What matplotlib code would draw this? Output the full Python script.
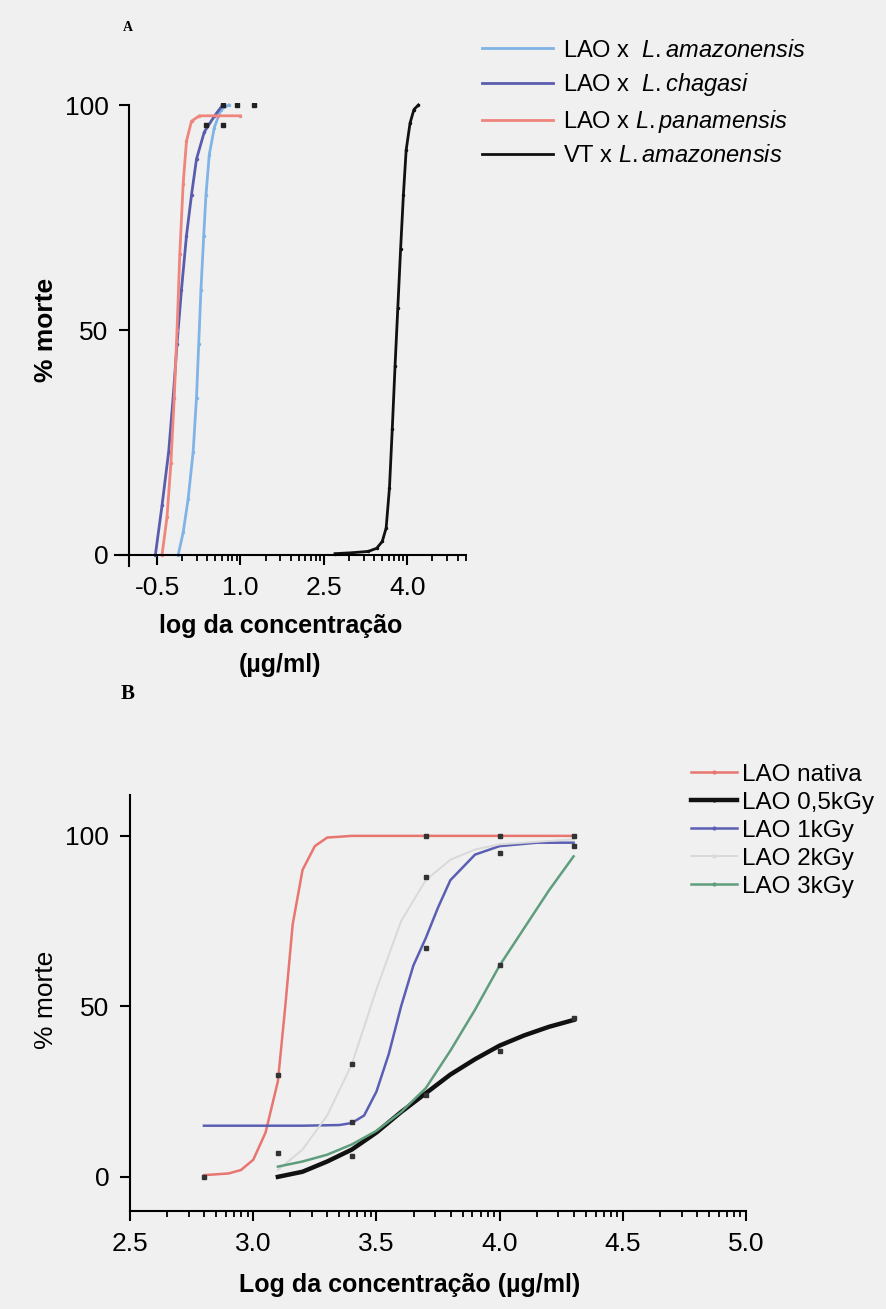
import numpy as np
import matplotlib.pyplot as plt
from matplotlib.lines import Line2D

plt.rcParams['font.family'] = ['Liberation Sans', 'DejaVu Sans']
plt.rcParams['mathtext.fontset'] = 'custom'
plt.rcParams['mathtext.it'] = 'Liberation Sans:italic'
plt.rcParams['mathtext.rm'] = 'Liberation Sans'

# ---- painel A: curvas (log conc, % morte)
amaz_x = [-0.12, -0.03, 0.06, 0.15, 0.21, 0.25, 0.29, 0.34, 0.38, 0.44, 0.53, 0.65, 0.79]
amaz_y = [0, 5, 12.5, 23, 35, 47, 59, 71, 80, 89, 95, 99, 100]
chag_x = [-0.53, -0.41, -0.29, -0.21, -0.14, -0.06, 0.03, 0.12, 0.21, 0.35, 0.53, 0.68]
chag_y = [0, 11, 23, 35, 47, 59, 71, 80, 88, 94, 97.5, 100]
pan_x = [-0.41, -0.32, -0.25, -0.19, -0.14, -0.09, -0.03, 0.03, 0.12, 0.26, 0.6, 1.0]
pan_y = [0, 8.5, 20.5, 35, 50, 67, 82.5, 92, 96.4, 97.6, 97.6, 97.6]
vt_x = [2.7, 3.0, 3.3, 3.45, 3.55, 3.62, 3.68, 3.73, 3.78, 3.83, 3.88, 3.93, 3.98, 4.05, 4.12, 4.2]
vt_y = [0.3, 0.5, 0.8, 1.5, 3, 6, 15, 28, 42, 55, 68, 80, 90, 96, 99, 100]
ptsA_x = [0.38, 0.68, 0.68, 0.94, 1.24]
ptsA_y = [95.5, 95.5, 100, 100, 100]

labelsA = [r'LAO x  $\mathit{L.amazonensis}$', r'LAO x  $\mathit{L.chagasi}$',
           r'LAO x $\mathit{L.panamensis}$', r'VT x $\mathit{L.amazonensis}$']
coresA = ['#80b4e6', '#5a5cae', '#ef857c', '#111111']

# ---- painel B
nat_x = [2.8, 2.9, 2.95, 3.0, 3.05, 3.1, 3.13, 3.16, 3.2, 3.25, 3.3, 3.4, 3.7, 4.0, 4.3]
nat_y = [0.5, 1, 2, 5, 13, 28, 50, 74, 90, 97, 99.5, 100, 100, 100, 100]
k05_x = [3.1, 3.2, 3.3, 3.4, 3.5, 3.6, 3.7, 3.8, 3.9, 4.0, 4.1, 4.2, 4.3]
k05_y = [0, 1.5, 4.5, 8, 13, 19, 24.5, 30, 34.5, 38.5, 41.5, 44, 46]
k1_x = [2.8, 3.0, 3.2, 3.35, 3.4, 3.45, 3.5, 3.55, 3.6, 3.65, 3.7, 3.75, 3.8, 3.9, 4.0, 4.15, 4.3]
k1_y = [15, 15, 15, 15.2, 15.8, 18, 25, 36, 50, 62, 70, 79, 87, 94.5, 97, 98, 98]
k2_x = [3.1, 3.2, 3.3, 3.4, 3.5, 3.6, 3.7, 3.8, 3.9, 4.0, 4.3]
k2_y = [2, 8, 18, 33, 55, 75, 87, 93, 96, 97.5, 99]
k3_x = [3.1, 3.2, 3.3, 3.4, 3.5, 3.6, 3.7, 3.8, 3.9, 4.0, 4.1, 4.2, 4.3]
k3_y = [3, 4.5, 6.5, 9.5, 13.5, 19, 26, 37, 49, 62, 73, 84, 94]
ptsB_x = [2.8, 3.1, 3.1, 3.4, 3.4, 3.4, 3.7, 3.7, 3.7, 3.7, 4.0, 4.0, 4.0, 4.0, 4.3, 4.3, 4.3]
ptsB_y = [0, 30, 7, 33, 16, 6, 100, 88, 67, 24, 100, 95, 62, 37, 100, 97, 46.5]

labelsB = ['LAO nativa', 'LAO 0,5kGy', 'LAO 1kGy', 'LAO 2kGy', 'LAO 3kGy']
coresB = ['#e8756f', '#111111', '#5b5fb4', '#d9d9d9', '#5e9e7c']
larguraB = [1.8, 3.2, 1.8, 1.4, 1.8]

fundo = '#f0f0f0'
fig = plt.figure(figsize=(8.87, 13.09), dpi=100, facecolor=fundo)

# ================= painel A
axA = fig.add_axes([0.130, 0.5657, 0.395, 0.3558])
axA.set_facecolor(fundo)
for xs, ys, c in zip([amaz_x, chag_x, pan_x, vt_x], [amaz_y, chag_y, pan_y, vt_y], coresA):
    axA.plot(xs, ys, '-', color=c, lw=2.0, marker='.', ms=3)
axA.plot(ptsA_x, ptsA_y, 's', color='#222222', ms=2.5)

axA.set_xlim(-1.25, 5.05)
axA.set_ylim(-3, 100.5)
axA.spines['top'].set_visible(False)
axA.spines['right'].set_visible(False)
axA.spines['bottom'].set_position(('data', 0))
axA.spines['left'].set_position(('data', -1.0))
axA.spines['left'].set_bounds(-2.5, 100)
majA = [-0.5, 1.0, 2.5, 4.0]
minA = [m + 1.5 * np.log10(k) for m in majA for k in range(2, 10) if m + 1.5 * np.log10(k) < 5.05]
axA.set_xticks(majA)
axA.set_xticklabels(['-0.5', '1.0', '2.5', '4.0'])
axA.set_xticks(minA, minor=True)
axA.set_yticks([0, 50, 100])
axA.tick_params(axis='both', which='major', labelsize=19, direction='out', length=7, width=1.5, pad=8)
axA.tick_params(axis='x', which='minor', direction='out', length=4, width=1.3)
for s in ['left', 'bottom']:
    axA.spines[s].set_linewidth(1.5)

fig.text(0.052, 0.748, '% morte', rotation=90, fontsize=19, fontweight='bold', ha='center', va='center')
fig.text(0.316, 0.522, 'log da concentração', fontsize=18, fontweight='bold', ha='center', va='center')
fig.text(0.316, 0.492, '(µg/ml)', fontsize=18, fontweight='bold', ha='center', va='center')
fig.text(0.144, 0.979, 'A', fontsize=10, fontweight='bold', family='Liberation Serif', ha='center', va='center')

handA = [Line2D([], [], color=c, lw=2.0) for c in coresA]
fig.legend(handA, labelsA, loc='upper left', bbox_to_anchor=(0.52, 0.986), frameon=False,
           fontsize=17, handlelength=3.0, handletextpad=0.4, labelspacing=0.42)

# ================= painel B
axB = fig.add_axes([0.1466, 0.0749, 0.6945, 0.3178])
axB.set_facecolor(fundo)
for xs, ys, c, lw in zip([nat_x, k05_x, k1_x, k2_x, k3_x], [nat_y, k05_y, k1_y, k2_y, k3_y], coresB, larguraB):
    axB.plot(xs, ys, '-', color=c, lw=lw)
axB.plot(ptsB_x, ptsB_y, 's', color='#333333', ms=2.5)

axB.set_xlim(2.5, 5.0)
axB.set_ylim(-10, 112)
axB.spines['top'].set_visible(False)
axB.spines['right'].set_visible(False)
majB = [2.5, 3.0, 3.5, 4.0, 4.5, 5.0]
minB = [m + 0.5 * np.log10(k) for m in majB[:-1] for k in range(2, 10)]
axB.set_xticks(majB)
axB.set_xticklabels(['2.5', '3.0', '3.5', '4.0', '4.5', '5.0'])
axB.set_xticks(minB, minor=True)
axB.set_yticks([0, 50, 100])
axB.tick_params(axis='both', which='major', labelsize=19, direction='out', length=7, width=1.5, pad=8)
axB.tick_params(axis='x', which='minor', direction='out', length=4, width=1.3)
for s in ['left', 'bottom']:
    axB.spines[s].set_linewidth(1.5)

fig.text(0.052, 0.236, '% morte', rotation=90, fontsize=19, ha='center', va='center')
fig.text(0.462, 0.018, 'Log da concentração (µg/ml)', fontsize=18, fontweight='bold', ha='center', va='center')
fig.text(0.144, 0.470, 'B', fontsize=15, fontweight='bold', family='Liberation Serif', ha='center', va='center')

handB = [Line2D([0, 1], [0, 0], color=c, lw=lw, marker='.', ms=4, markevery=[1]) for c, lw in zip(coresB, larguraB)]
fig.legend(handB, labelsB, loc='upper left', bbox_to_anchor=(0.765, 0.426), frameon=False, borderpad=0,
           fontsize=17.5, handlelength=1.9, handletextpad=0.2, labelspacing=0.25)

fig.savefig('out.png', dpi=100, facecolor=fundo)
